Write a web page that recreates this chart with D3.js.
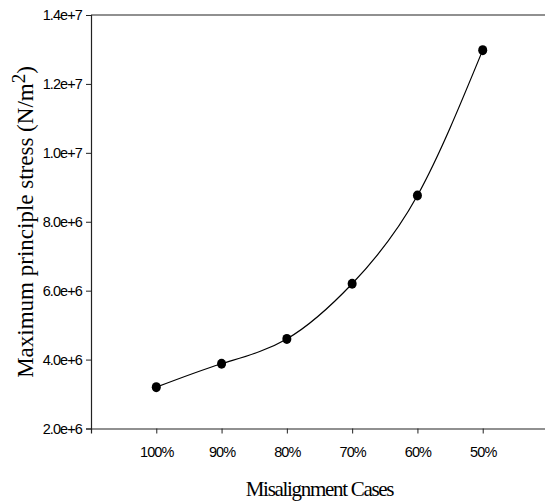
<!DOCTYPE html>
<html><head><meta charset="utf-8">
<script src="https://cdn.jsdelivr.net/npm/d3@7"></script>
<style>body{margin:0;background:#fff}</style>
</head><body>
<svg id="c" width="545" height="503"></svg>
<script>
const categories = ["100%","90%","80%","70%","60%","50%"];
const stress = [3.2e6, 3.88e6, 4.6e6, 6.2e6, 8.76e6, 1.298e7];
const yTicks = [2e6,4e6,6e6,8e6,1e7,1.2e7,1.4e7];
const yTickLabels = ["2.0e+6","4.0e+6","6.0e+6","8.0e+6","1.0e+7","1.2e+7","1.4e+7"];

const svg = d3.select("#c");
const L = 91, R = 548, T = 15, B = 428.5;
const x = d3.scaleLinear().domain([0, categories.length + 1]).range([L, R]);
const y = d3.scaleLinear().domain([2e6, 1.4e7]).range([B, T]);

// top frame line
svg.append("line").attr("x1", L).attr("x2", R).attr("y1", T).attr("y2", T)
  .attr("stroke", "#222").attr("stroke-width", 1.2);

const yAxis = svg.append("g").attr("transform", `translate(${L},0)`)
  .call(d3.axisLeft(y).tickValues(yTicks).tickFormat((d,i)=>yTickLabels[i]).tickSize(5).tickPadding(4));
const xAxis = svg.append("g").attr("transform", `translate(0,${B})`)
  .call(d3.axisBottom(x).tickValues(d3.range(1, categories.length+1)).tickFormat(d=>categories[d-1]).tickSize(5).tickPadding(13));
for (const g of [yAxis, xAxis]) {
  g.select(".domain").attr("stroke", "#222").attr("stroke-width", 1.2);
  g.selectAll(".tick line").attr("stroke", "#222").attr("stroke-width", 1);
  g.selectAll(".tick text").attr("font-family", "Liberation Sans, Arial, sans-serif")
    .attr("font-size", 14.5).attr("letter-spacing", -0.9).attr("fill", "#000");
}

const pts = stress.map((v,i)=>[x(i+1), y(v)]);
svg.append("path").attr("d", d3.line().curve(d3.curveNatural)(pts))
  .attr("fill", "none").attr("stroke", "#000").attr("stroke-width", 1.2);
svg.selectAll("ellipse.pt").data(stress).join("ellipse").attr("class","pt")
  .attr("cx", (d,i)=>x(i+1)).attr("cy", d=>y(d)).attr("rx", 4.5).attr("ry", 5).attr("fill", "#000");

svg.append("text").attr("x", (L+R)/2).attr("y", 496).attr("text-anchor", "middle")
  .attr("font-family", "Liberation Serif, Times New Roman, serif").attr("font-size", 21)
  .attr("letter-spacing", -1.3).text("Misalignment Cases");

const yt = svg.append("text").attr("transform", "translate(33,222) rotate(-90)").attr("text-anchor", "middle")
  .attr("font-family", "Liberation Serif, Times New Roman, serif").attr("font-size", 23);
yt.append("tspan").text("Maximum principle stress (N/m");
yt.append("tspan").attr("dy", -8).attr("font-size", 19).text("2");
yt.append("tspan").attr("dy", 8).text(")");
</script>
</body></html>
